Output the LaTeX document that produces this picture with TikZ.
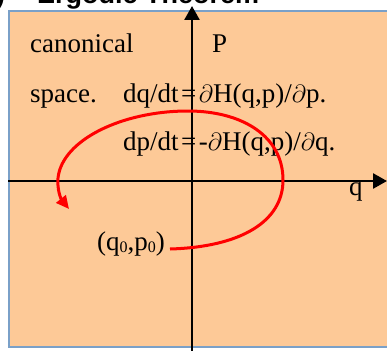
\documentclass[tikz,border=0pt]{standalone}
\usepackage{fontspec}
\setmainfont{Liberation Serif}
\newfontfamily\titlefont{Liberation Sans}
\usetikzlibrary{arrows.meta}
\definecolor{peach}{RGB}{253,201,151}
\definecolor{frameblue}{RGB}{122,160,200}
\definecolor{trajred}{RGB}{255,0,0}
\tikzset{
  lbl/.style={anchor=base west, inner sep=0pt, font=\fontsize{27}{31}\selectfont},
  axis/.style={line width=2.6pt, -{Triangle[length=14pt,width=15pt]}},
  traj/.style={draw=trajred, line width=3pt, -{Triangle[length=13pt,width=12pt]}}
}
\newcommand{\smallsub}[1]{\raisebox{-2pt}{\fontsize{16}{16}\selectfont #1}}
\newcommand{\eqsign}{\hspace{2.5pt}=\hspace{2.5pt}}
\begin{document}
\begin{tikzpicture}[x=1pt,y=-1pt]
\useasboundingbox (0,0) rectangle (387,350);
\begin{scope}
\clip (0,0) rectangle (387,350);
% title fragment
\node[anchor=base west, inner sep=0pt, font=\titlefont\bfseries\fontsize{27}{30}\selectfont] (title) at (37,4) {Ergodic Theorem};
\node[anchor=base west, inner sep=0pt, font=\titlefont\bfseries\fontsize{27}{30}\selectfont] (paren) at (-4,4) {)};
% background box
\draw[fill=peach, draw=frameblue, line width=2.6pt] (9,11) rectangle (420,347);
% axes
\coordinate (ybot) at (192,352);
\coordinate (ytop) at (192,6);
\coordinate (xleft) at (8,181);
\coordinate (xright) at (387,181);
\draw[axis] (ybot) -- (ytop);
\draw[axis] (xleft) -- (xright);
% labels
\node[lbl] (canon) at (30,53) {canonical};
\node[lbl] (P) at (212,53) {P};
\node[lbl] (space) at (30,102) {space.};
\node[lbl] (eq1) at (123,102) {dq/dt\eqsign$\partial$H(q,p)/$\partial$p.};
\node[lbl] (eq2) at (123,150) {dp/dt\eqsign-$\partial$H(q,p)/$\partial$q.};
\node[lbl] (q) at (349,195) {q};
\node[lbl] (start) at (97,250) {(q\smallsub{0},p\smallsub{0})};
% trajectory
\coordinate (s) at (170,249);
\coordinate (r) at (283,180);
\coordinate (t) at (188,111);
\coordinate (l) at (58,178);
\coordinate (e) at (69,209);
\draw[traj] (s) .. controls (240,247) and (283,222) .. (r)
  .. controls (283,136) and (242,111) .. (t)
  .. controls (122,111) and (62,140) .. (l)
  .. controls (57,190) and (61,199) .. (e);
\end{scope}
\end{tikzpicture}
\end{document}
